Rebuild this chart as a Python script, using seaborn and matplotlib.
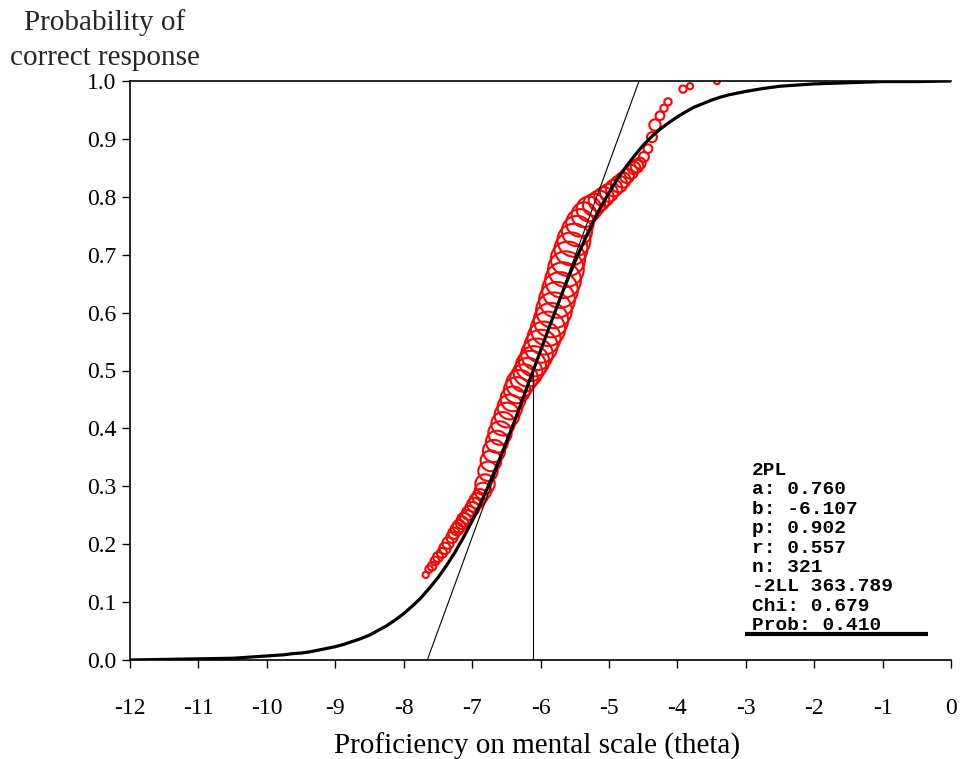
import numpy as np
import pandas as pd
import matplotlib
matplotlib.use("Agg")
import matplotlib.pyplot as plt
import seaborn as sns

# ---------------- data ----------------
# empirical proportions correct (red circles) and relative group sizes
theta_obs = [-7.678, -7.630, -7.586, -7.542, -7.498, -7.440, -7.396, -7.352, -7.294, -7.265,
             -7.221, -7.191, -7.148, -7.118, -7.075, -7.045, -7.001, -6.972, -6.928, -6.885,
             -6.841, -6.811, -6.768, -6.724, -6.680, -6.636, -6.592, -6.548, -6.490, -6.446,
             -6.402, -6.344, -6.300, -6.241, -6.183, -6.139, -6.095, -6.051, -5.993, -5.949,
             -5.891, -5.847, -5.803, -5.759, -5.715, -5.671, -5.628, -5.598, -5.554, -5.511,
             -5.467, -5.423, -5.364, -5.291, -5.218, -5.145, -5.072, -4.999, -4.926, -4.853,
             -4.795, -4.736, -4.678, -4.634, -4.590, -4.546, -4.488, -4.429, -4.371, -4.327,
             -4.254, -4.195, -4.137, -3.917, -3.815, -3.421]
p_obs = [0.147, 0.157, 0.162, 0.171, 0.178, 0.185, 0.193, 0.202, 0.212, 0.219,
         0.226, 0.231, 0.237, 0.242, 0.247, 0.254, 0.261, 0.268, 0.275, 0.282,
         0.292, 0.304, 0.326, 0.344, 0.361, 0.377, 0.392, 0.408, 0.423, 0.437,
         0.451, 0.466, 0.477, 0.487, 0.497, 0.508, 0.516, 0.528, 0.542, 0.556,
         0.572, 0.587, 0.604, 0.622, 0.639, 0.656, 0.675, 0.693, 0.710, 0.725,
         0.741, 0.755, 0.769, 0.779, 0.786, 0.793, 0.800, 0.807, 0.815, 0.822,
         0.829, 0.836, 0.843, 0.850, 0.853, 0.858, 0.869, 0.883, 0.903, 0.924,
         0.940, 0.953, 0.964, 0.986, 0.991, 1.000]
n_obs = [4, 6, 9, 9, 12, 12, 16, 16, 16, 16,
         20, 20, 20, 25, 25, 25, 25, 25, 30, 30,
         36, 49, 49, 56, 64, 64, 72, 72, 81, 81,
         81, 90, 100, 100, 110, 121, 121, 132, 144, 144,
         156, 156, 169, 169, 169, 169, 169, 156, 144, 144,
         121, 100, 81, 81, 64, 56, 49, 42, 36, 36,
         30, 25, 25, 20, 20, 16, 12, 9, 12, 16,
         9, 6, 6, 6, 4, 4]

# item characteristic curve
theta_icc = [-12.0, -11.5, -11.0, -10.5, -10.25, -10.0, -9.875, -9.75, -9.625, -9.5,
             -9.375, -9.25, -9.125, -9.0, -8.875, -8.75, -8.625, -8.5, -8.375, -8.25,
             -8.125, -8.0, -7.875, -7.75, -7.625, -7.5, -7.375, -7.25, -7.125, -7.0,
             -6.875, -6.75, -6.625, -6.5, -6.375, -6.25, -6.125, -6.0, -5.875, -5.75,
             -5.625, -5.5, -5.375, -5.25, -5.125, -5.0, -4.875, -4.75, -4.625, -4.5,
             -4.375, -4.25, -4.125, -4.0, -3.875, -3.75, -3.625, -3.5, -3.375, -3.25,
             -3.125, -3.0, -2.75, -2.5, -2.25, -2.0, -1.75, -1.5, -1.0, -0.5, 0.0]
p_icc = [0.000, 0.001, 0.002, 0.003, 0.005, 0.007, 0.008, 0.009, 0.011, 0.012,
         0.014, 0.017, 0.020, 0.023, 0.027, 0.032, 0.037, 0.043, 0.051, 0.059,
         0.069, 0.080, 0.093, 0.107, 0.124, 0.142, 0.163, 0.186, 0.212, 0.240,
         0.270, 0.304, 0.339, 0.376, 0.414, 0.454, 0.494, 0.534, 0.574, 0.613,
         0.651, 0.687, 0.720, 0.752, 0.781, 0.807, 0.831, 0.852, 0.871, 0.889,
         0.904, 0.917, 0.928, 0.938, 0.947, 0.955, 0.961, 0.967, 0.972, 0.976,
         0.979, 0.982, 0.987, 0.991, 0.993, 0.995, 0.996, 0.997, 0.999, 0.999, 1.000]

# tangent line at the difficulty and difficulty marker
tangent_theta = [-7.655, -4.559]
tangent_p = [0.0, 1.0]
b_theta = [-6.107, -6.107]
b_p = [0.0, 0.5]

stats_lines = ["2PL", "a: 0.760", "b: -6.107", "p: 0.902", "r: 0.557",
               "n: 321", "-2LL 363.789", "Chi: 0.679", "Prob: 0.410"]

x_ticks = list(range(-12, 1))
x_ticklabels = ["-12", "-11", "-10", "-9", "-8", "-7", "-6", "-5", "-4", "-3", "-2", "-1", "0"]
y_ticks = [0.0, 0.1, 0.2, 0.3, 0.4, 0.5, 0.6, 0.7, 0.8, 0.9, 1.0]
y_ticklabels = ["0.0", "0.1", "0.2", "0.3", "0.4", "0.5", "0.6", "0.7", "0.8", "0.9", "1.0"]

# ---------------- plot ----------------
sns.set_theme(style="white")
plt.rcParams["font.family"] = ["Liberation Serif", "DejaVu Serif"]

W, H = 961, 759
fig = plt.figure(figsize=(W / 100, H / 100), dpi=100)
ax_l, ax_r, ax_t, ax_b = 130, 951, 81, 660
ax = fig.add_axes([ax_l / W, 1 - ax_b / H, (ax_r - ax_l) / W, (ax_b - ax_t) / H])

obs = pd.DataFrame({"theta": theta_obs, "p": p_obs, "n": n_obs})
icc = pd.DataFrame({"theta": theta_icc, "p": p_icc})

sns.scatterplot(data=obs, x="theta", y="p", size="n", sizes=(20, 660),
                size_norm=(4, 169), marker="o", color="red", facecolor="none",
                edgecolor="red", linewidth=1.5, legend=False, ax=ax, zorder=2)

sns.lineplot(data=icc, x="theta", y="p", color="black", linewidth=2.3, ax=ax,
             sort=False, zorder=4)
ax.plot(tangent_theta, tangent_p, color="black", linewidth=0.8, zorder=3)
ax.plot(b_theta, b_p, color="black", linewidth=0.8, zorder=3)

ax.set_xlim(-12, 0)
ax.set_ylim(0, 1)
ax.set_xticks(x_ticks)
ax.set_xticklabels(x_ticklabels)
ax.set_yticks(y_ticks)
ax.set_yticklabels(y_ticklabels)
ax.tick_params(axis="both", which="major", direction="out", length=6, width=1,
               color="black", labelsize=17, labelcolor="black")
ax.tick_params(axis="x", pad=21)
ax.tick_params(axis="y", pad=4)
ax.xaxis.set_ticks_position("bottom")
ax.yaxis.set_ticks_position("left")

for side in ["left", "bottom", "top"]:
    ax.spines[side].set_visible(True)
    ax.spines[side].set_color("black")
    ax.spines[side].set_linewidth(1.2)
ax.spines["right"].set_visible(False)
ax.grid(False)

ax.set_xlabel("Proficiency on mental scale (theta)", fontsize=21, color="black", va="top")
ax.xaxis.set_label_coords(0.4957, -0.125)
ax.set_ylabel("")

fig.text(104.5 / W, 1 - 30 / H, "Probability of", fontsize=21, ha="center", va="baseline")
fig.text(104.5 / W, 1 - 65 / H, "correct response", fontsize=21, ha="center", va="baseline")

# statistics box
mono = ["Liberation Mono", "DejaVu Sans Mono"]
for i, line in enumerate(stats_lines):
    y_px = 470 + 19.4 * i + 5
    ax.text((752 - ax_l) / (ax_r - ax_l), (ax_b - y_px) / (ax_b - ax_t), line,
            transform=ax.transAxes, family=mono, fontweight="bold", fontsize=14,
            ha="left", va="baseline", color="black")
ax.plot([(745 - ax_l) / (ax_r - ax_l), (928 - ax_l) / (ax_r - ax_l)],
        [(ax_b - 634) / (ax_b - ax_t)] * 2, transform=ax.transAxes,
        color="black", linewidth=3, solid_capstyle="butt", clip_on=False)

fig.savefig("out.png", dpi=100)
